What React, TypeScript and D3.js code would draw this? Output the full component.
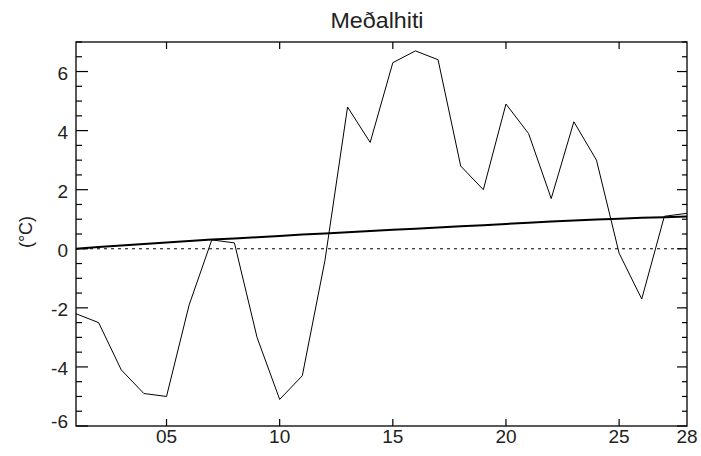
import React from "react";
import * as d3 from "d3";

const days: number[] = d3.range(1, 29);
const temps: number[] = [
  -2.2, -2.5, -4.1, -4.9, -5.0, -1.9, 0.3, 0.2, -3.0, -5.1,
  -4.3, -0.4, 4.8, 3.6, 6.3, 6.7, 6.4, 2.8, 2.0, 4.9,
  3.9, 1.7, 4.3, 3.0, -0.15, -1.7, 1.1, 1.2,
];
const normal: number[] = [
  0.0, 0.06, 0.11, 0.16, 0.21, 0.26, 0.31, 0.35, 0.39, 0.43,
  0.48, 0.52, 0.56, 0.6, 0.64, 0.68, 0.72, 0.76, 0.8, 0.84,
  0.88, 0.92, 0.96, 0.99, 1.02, 1.05, 1.07, 1.09,
];
const xTicks: number[] = [5, 10, 15, 20, 25];
const xLabels: { v: number; t: string }[] = [
  { v: 5, t: "05" },
  { v: 10, t: "10" },
  { v: 15, t: "15" },
  { v: 20, t: "20" },
  { v: 25, t: "25" },
  { v: 28, t: "28" },
];
const yMajor: number[] = [-6, -4, -2, 0, 2, 4, 6];
const yMinor: number[] = d3.range(-6, 7.01, 0.5).filter((v) => !yMajor.includes(v));
const title = "Meðalhiti";
const yTitle = "(°C)";

export default function App() {
  const W = 701, H = 456;
  const L = 76, R = 687, T = 42, B = 426;
  const x = d3.scaleLinear().domain([1, 28]).range([L, R]);
  const y = d3.scaleLinear().domain([-6, 7]).range([B, T]);
  const line = d3.line<number>().x((_, i) => x(days[i])).y((d) => y(d));
  const font = "'Liberation Sans', Arial, Helvetica, sans-serif";
  const txt = "#222";
  return (
    <svg width={W} height={H} style={{ position: "absolute", left: 0, top: 0, background: "#fff" }}>
      <rect x={0} y={0} width={W} height={H} fill="#fff" />
      {/* zero dotted line */}
      <line x1={L} x2={R} y1={y(0)} y2={y(0)} stroke="#000" strokeWidth={1} strokeDasharray="3,4" />
      {/* normal curve */}
      <path d={line(normal) || ""} fill="none" stroke="#000" strokeWidth={2} />
      {/* daily temps */}
      <path d={line(temps) || ""} fill="none" stroke="#000" strokeWidth={1} strokeLinejoin="miter" />
      {/* frame */}
      <rect x={L} y={T} width={R - L} height={B - T} fill="none" stroke="#000" strokeWidth={1.3} />
      {/* x ticks */}
      {xTicks.map((v) => (
        <g key={"xt" + v}>
          <line x1={x(v)} x2={x(v)} y1={B} y2={B - 7} stroke="#000" strokeWidth={1.2} />
          <line x1={x(v)} x2={x(v)} y1={T} y2={T + 7} stroke="#000" strokeWidth={1.2} />
        </g>
      ))}
      {xLabels.map((d) => (
        <text key={"xl" + d.v} x={x(d.v)} y={443} textAnchor="middle" fontFamily={font} fontSize={19} fill={txt}>
          {d.t}
        </text>
      ))}
      {/* y ticks */}
      {yMajor.map((v) => (
        <g key={"ym" + v}>
          <line x1={L} x2={L + 12} y1={y(v)} y2={y(v)} stroke="#000" strokeWidth={1.2} />
          <line x1={R} x2={R - 10} y1={y(v)} y2={y(v)} stroke="#000" strokeWidth={1.2} />
          <text x={68} y={y(v)} dy={v === -6 ? "0.1em" : "0.42em"} textAnchor="end" fontFamily={font} fontSize={19} fill={txt}>
            {String(v)}
          </text>
        </g>
      ))}
      {yMinor.map((v) => (
        <g key={"yn" + v}>
          <line x1={L} x2={L + 6} y1={y(v)} y2={y(v)} stroke="#000" strokeWidth={1.2} />
          <line x1={R} x2={R - 5} y1={y(v)} y2={y(v)} stroke="#000" strokeWidth={1.2} />
        </g>
      ))}
      {/* titles */}
      <text x={377} y={28} textAnchor="middle" fontFamily={font} fontSize={22} fill={txt} textLength={93} lengthAdjust="spacingAndGlyphs">
        {title}
      </text>
      <text transform={`translate(32,${(T + B) / 2 - 2}) rotate(-90)`} textAnchor="middle" fontFamily={font} fontSize={18} fill={txt}>
        {yTitle}
      </text>
    </svg>
  );
}
